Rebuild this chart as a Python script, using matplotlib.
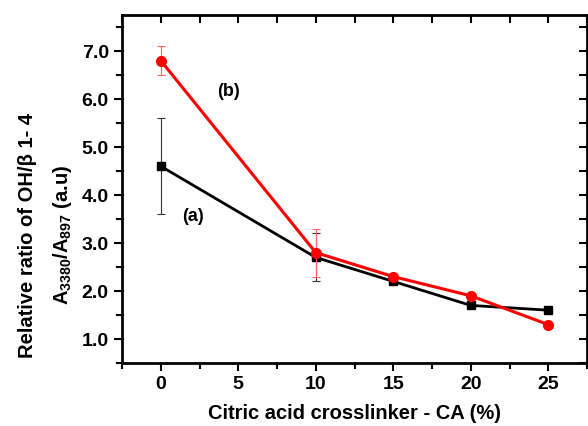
import matplotlib
matplotlib.use("Agg")
import matplotlib.pyplot as plt
from matplotlib.ticker import MultipleLocator

plt.rcParams['font.family'] = ['Liberation Sans', 'DejaVu Sans']
plt.rcParams['font.weight'] = 'bold'
plt.rcParams['mathtext.fontset'] = 'custom'
plt.rcParams['mathtext.rm'] = 'Liberation Sans:bold'
plt.rcParams['mathtext.default'] = 'rm'

ca = [0, 10, 15, 20, 25]
ratio_a = [4.6, 2.7, 2.2, 1.7, 1.6]
err_a = [1.0, 0.5, 0.05, 0.03, 0.06]
ratio_b = [6.8, 2.8, 2.3, 1.9, 1.3]
err_b = [0.3, 0.5, 0.07, 0.05, 0.06]

fig = plt.figure(figsize=(5.88, 4.26), dpi=100)
ax = fig.add_axes([122 / 588, 63 / 426, 465 / 588, 348 / 426])

ax.errorbar(ca, ratio_a, yerr=err_a, color='black', marker='s', markersize=6,
            lw=2, ecolor='#333333', elinewidth=0.8, capsize=3, capthick=0.8, zorder=3)
ax.errorbar(ca, ratio_b, yerr=err_b, color='#ff0000', marker='o', markersize=7,
            lw=2.2, ecolor='#ff6060', elinewidth=0.8, capsize=3, capthick=0.8, zorder=4)

ax.text(4.4, 6.15, '(b)', ha='center', va='center', fontsize=13, fontweight='bold')
ax.text(2.1, 3.55, '(a)', ha='center', va='center', fontsize=13, fontweight='bold')

ax.set_xlim(-2.5, 27.5)
ax.set_ylim(0.5, 7.75)
ax.xaxis.set_major_locator(MultipleLocator(5))
ax.xaxis.set_minor_locator(MultipleLocator(2.5))
ax.yaxis.set_major_locator(MultipleLocator(1))
ax.yaxis.set_minor_locator(MultipleLocator(0.5))
ax.yaxis.set_major_formatter(plt.FormatStrFormatter('%.1f'))

for s in ax.spines.values():
    s.set_linewidth(2)
ax.tick_params(axis='both', which='both', width=1.5, labelsize=14, direction='out')
ax.tick_params(which='major', length=6)
ax.tick_params(which='minor', length=4)
ax.tick_params(axis='x', which='minor', labelbottom=False)

# inward ticks on top and right
axt = ax.secondary_xaxis('top')
axt.xaxis.set_major_locator(MultipleLocator(2.5))
axt.tick_params(direction='in', length=6, width=1.5, labeltop=False)
axr = ax.secondary_yaxis('right')
axr.yaxis.set_major_locator(MultipleLocator(0.5))
axr.tick_params(direction='in', length=6, width=1.5, labelright=False)

for lbl in ax.get_xticklabels() + ax.get_yticklabels():
    lbl.set_fontweight('bold')

ax.set_xlabel('Citric acid crosslinker - CA (%)', fontsize=14.5, fontweight='bold', labelpad=8)
fig.text(28 / 588, 191 / 426, 'Relative ratio of OH/β 1- 4', rotation=90,
         ha='center', va='center', fontsize=14.5, fontweight='bold')
fig.text(62 / 588, 191 / 426, r'A$_{3380}$/A$_{897}$ (a.u)', rotation=90,
         ha='center', va='center', fontsize=14.5, fontweight='bold')

fig.savefig('out.png', dpi=100)
